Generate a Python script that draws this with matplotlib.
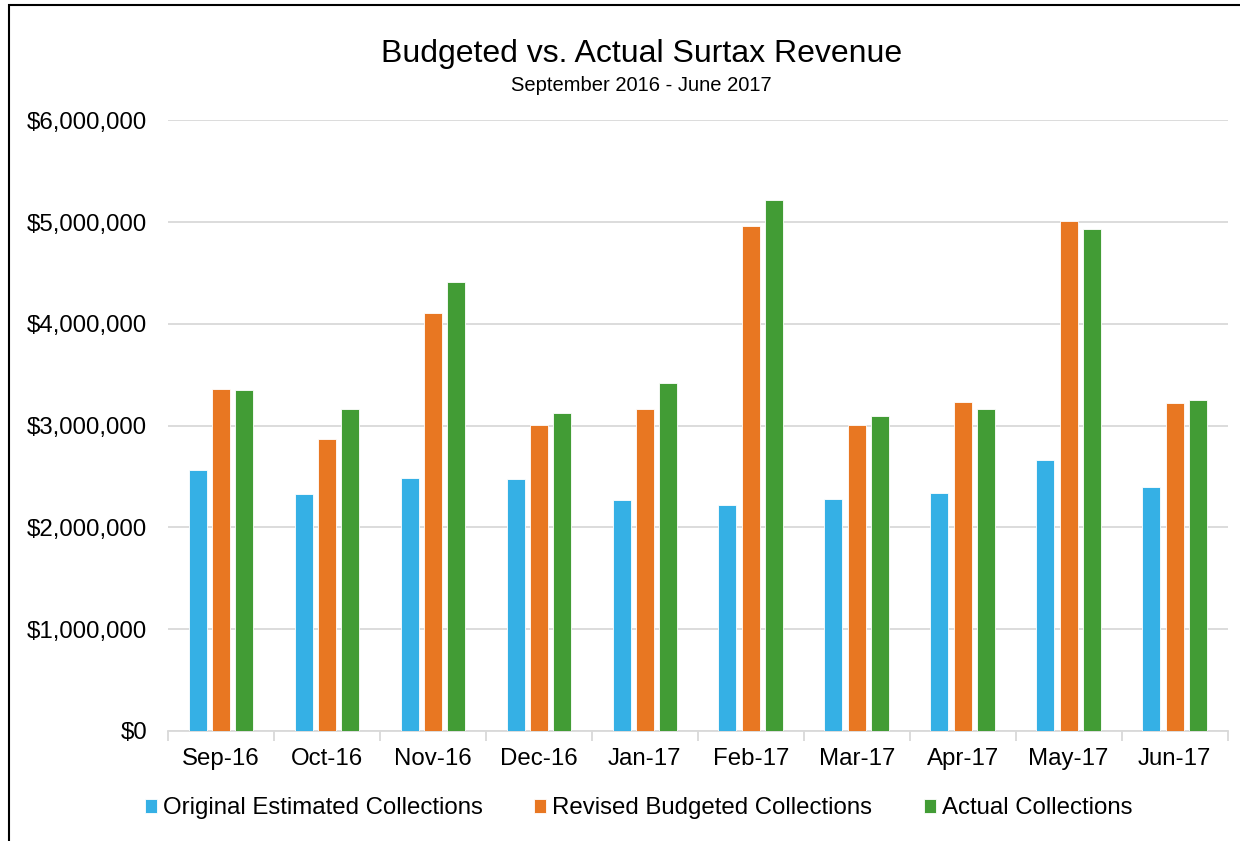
import numpy as np
import matplotlib.pyplot as plt
from matplotlib.patches import Rectangle
from matplotlib.ticker import FuncFormatter

plt.rcParams['font.family'] = ['Liberation Sans', 'DejaVu Sans']

months = ['Sep-16', 'Oct-16', 'Nov-16', 'Dec-16', 'Jan-17',
          'Feb-17', 'Mar-17', 'Apr-17', 'May-17', 'Jun-17']
original = [2560000, 2330000, 2490000, 2480000, 2270000,
            2220000, 2280000, 2340000, 2660000, 2400000]
revised = [3360000, 2870000, 4110000, 3010000, 3160000,
           4960000, 3010000, 3230000, 5010000, 3220000]
actual = [3350000, 3160000, 4410000, 3120000, 3420000,
          5220000, 3090000, 3160000, 4930000, 3250000]

series = [('Original Estimated Collections', original, '#35b0e5'),
          ('Revised Budgeted Collections', revised, '#e87722'),
          ('Actual Collections', actual, '#429c35')]

fs = 17.3

fig = plt.figure(figsize=(12.4, 8.41), dpi=100)
ax = fig.add_axes([0.1355, 0.1308, 0.8545, 0.7262])

x = np.arange(len(months))
w = 0.17
step = 0.22
for i, (name, vals, col) in enumerate(series):
    ax.bar(x + (i - 1) * step, vals, w, color=col, label=name,
           edgecolor='white', linewidth=0.6, zorder=3)

ax.set_xlim(-0.5, len(months) - 0.5)
ax.set_ylim(0, 6000000)
ax.set_yticks(np.arange(0, 6000001, 1000000))
ax.yaxis.set_major_formatter(FuncFormatter(lambda v, p: '${:,.0f}'.format(v)))
ax.grid(axis='y', color='#d9d9d9', linewidth=1.3, zorder=0)
for s in ['top', 'right', 'left']:
    ax.spines[s].set_visible(False)
ax.spines['bottom'].set_color('#d9d9d9')
ax.spines['bottom'].set_linewidth(1.3)
ax.tick_params(axis='y', length=0, pad=15, labelsize=fs)

ax.set_xticks(np.arange(-0.5, len(months), 1))
ax.set_xticklabels([])
ax.tick_params(axis='x', which='major', length=7, color='#d9d9d9', width=1.3)
ax.set_xticks(x, minor=True)
ax.set_xticklabels(months, minor=True)
ax.tick_params(axis='x', which='minor', length=0, pad=12, labelsize=fs)

fig.text(0.517, 0.936, 'Budgeted vs. Actual Surtax Revenue', ha='center',
         va='center', fontsize=23)
fig.text(0.517, 0.898, 'September 2016 - June 2017', ha='center',
         va='center', fontsize=14.5)

fig.legend(loc='center', bbox_to_anchor=(0.515, 0.039), ncol=3, frameon=False,
           fontsize=fs, handlelength=0.5, handleheight=0.5,
           handletextpad=0.25, columnspacing=2.15)

fig.patches.append(Rectangle((9 / 1240, -0.1), 1.2, 1.1 - 5 / 841,
                             transform=fig.transFigure, fill=False,
                             edgecolor='black', linewidth=1.5))

fig.savefig('out.png', dpi=100)
